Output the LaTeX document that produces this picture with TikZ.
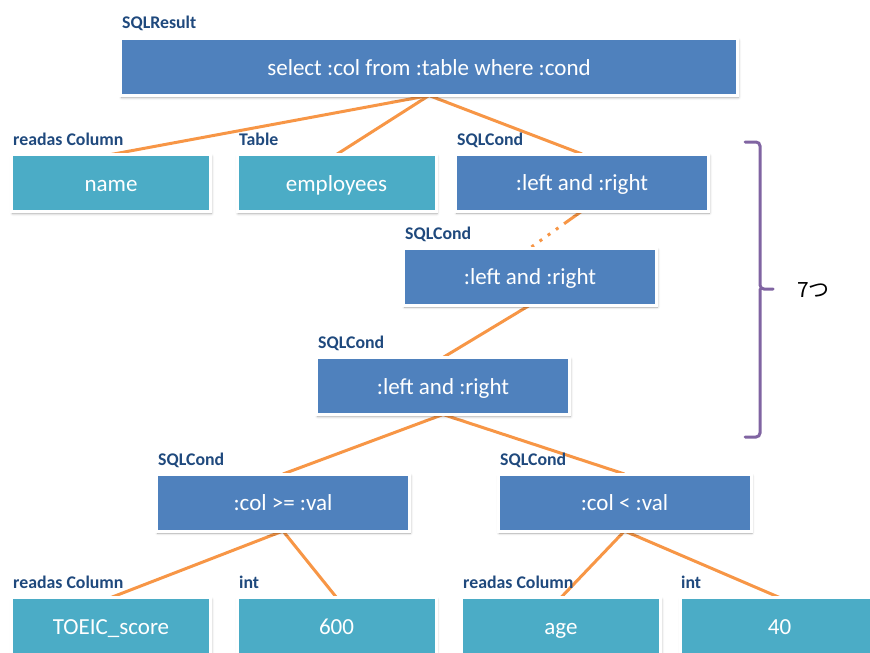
\documentclass[tikz,border=0pt]{standalone}
\usepackage{fontspec}
\setmainfont{Carlito}
\newfontfamily\cjk{Noto Sans CJK JP}
\usetikzlibrary{backgrounds,shadows.blur}

\definecolor{condblue}{RGB}{79,129,189}
\definecolor{leafteal}{RGB}{75,172,198}
\definecolor{linkorange}{RGB}{247,150,70}
\definecolor{tagblue}{RGB}{31,73,125}
\definecolor{bracepurple}{RGB}{128,100,162}

\tikzset{
  box/.style={draw=white, line width=3pt, inner sep=0pt, outer sep=0pt,
    text=white, font=\fontsize{23}{27}\selectfont,
    text height=18pt, text depth=2pt,
    blur shadow={shadow xshift=1pt, shadow yshift=-2pt,
      shadow blur radius=2.5pt, shadow blur steps=6, shadow opacity=35}},
  condbox/.style={box, fill=condblue, minimum width=253pt, minimum height=57pt},
  leafbox/.style={box, fill=leafteal, minimum width=199pt, minimum height=57pt},
  tag/.style={anchor=base west, inner sep=0pt, text=tagblue,
    font=\bfseries\fontsize{17.8}{20}\selectfont},
  link/.style={draw=linkorange, line width=3pt},
  brace/.style={draw=bracepurple, line width=3pt, rounded corners=4pt, line cap=round},
}

\begin{document}
\begin{tikzpicture}[x=1pt, y=-1pt]
\useasboundingbox (0,0) rectangle (870,653);

% root query
\node[box, fill=condblue, minimum width=617pt, minimum height=57pt] (res) at (429,67)
  {select :col from :table where :cond};
\node[tag] (res-t) at (122,28) {SQLResult};

% first level
\node[leafbox] (name) at (111,183) {name};
\node[tag] (name-t) at (13,145) {readas Column};
\node[leafbox] (emp) at (336.5,183) {employees};
\node[tag] (emp-t) at (239,145) {Table};
\node[condbox] (c1) at (582,182.5) {:left and :right};
\node[tag] (c1-t) at (457,145) {SQLCond};

% chain of conjunctions
\node[condbox] (c2) at (530,276.5) {:left and :right};
\node[tag] (c2-t) at (405,239) {SQLCond};
\node[condbox] (c3) at (443,386) {:left and :right};
\node[tag] (c3-t) at (318,348) {SQLCond};

% comparisons
\node[condbox] (ge) at (283,502.5) {:col >= :val};
\node[tag] (ge-t) at (158,465) {SQLCond};
\node[condbox] (lt) at (624.5,502.5) {:col < :val};
\node[tag] (lt-t) at (500,465) {SQLCond};

% leaves
\node[leafbox] (toeic) at (111,626) {TOEIC\_score};
\node[tag] (toeic-t) at (13,588) {readas Column};
\node[leafbox] (v600) at (336.5,626) {600};
\node[tag] (v600-t) at (239,588) {int};
\node[leafbox] (age) at (561,626) {age};
\node[tag] (age-t) at (463,588) {readas Column};
\node[leafbox] (v40) at (779.5,626) {40};
\node[tag] (v40-t) at (681,588) {int};

% tree edges behind the boxes
\begin{pgfonlayer}{background}
\draw[link] (res.south) -- (name.north);
\draw[link] (res.south) -- (emp.north);
\draw[link] (res.south) -- (c1.north);
\draw[link, dash pattern=on 22pt off 7pt on 3pt off 7pt on 3pt off 7pt on 3pt off 7pt on 3pt off 7pt]
  (c1.south) -- (c2.north);
\draw[link] (c2.south) -- (c3.north);
\draw[link] (c3.south) -- (ge.north);
\draw[link] (c3.south) -- (lt.north);
\draw[link] (ge.south) -- (toeic.north);
\draw[link] (ge.south) -- (v600.north);
\draw[link] (lt.south) -- (age.north);
\draw[link] (lt.south) -- (v40.north);
\end{pgfonlayer}

% brace over the seven conditions
\draw[brace] (745,142) -| (760,289) -- (773,289) (760,289) |- (745,437);
\node[anchor=west, inner sep=0pt, font=\cjk\fontsize{21}{24}\selectfont] (count) at (797,290) {7つ};
\end{tikzpicture}
\end{document}
